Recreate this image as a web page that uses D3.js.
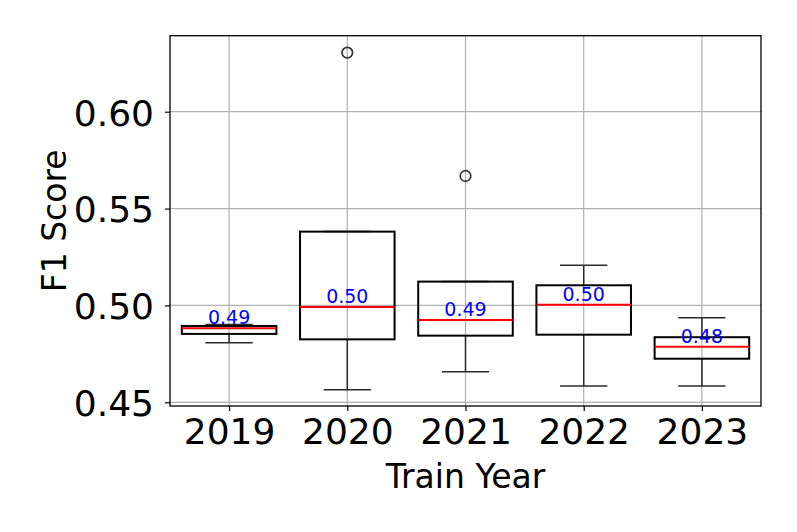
<!DOCTYPE html>
<html>
<head>
<meta charset="utf-8">
<script src="https://cdn.jsdelivr.net/npm/d3@7"></script>
<style>
  html, body { margin: 0; padding: 0; background: #fff; }
  text { font-family: "DejaVu Sans", sans-serif; }
</style>
</head>
<body>
<svg id="chart" width="797" height="532"></svg>
<script>
// ---- data ----
const years = ["2019", "2020", "2021", "2022", "2023"];
const whiskerLow  = [0.4808, 0.4565, 0.4658, 0.4584, 0.4584];
const q1          = [0.4853, 0.4825, 0.4844, 0.4849, 0.4725];
const medians     = [0.4882, 0.4992, 0.4925, 0.5004, 0.4787];
const q3          = [0.4894, 0.5381, 0.5123, 0.5104, 0.4836];
const whiskerHigh = [0.4901, 0.5381, 0.5123, 0.5207, 0.4937];
const outliers    = [[], [0.6305], [0.5668], [], []];
const yTicks = [0.45, 0.50, 0.55, 0.60];
const xLabel = "Train Year";
const yLabel = "F1 Score";

// ---- layout ----
const svg = d3.select("#chart");
const pL = 170, pR = 761, pT = 35.7, pB = 406;

const x = d3.scalePoint().domain(years).range([pL, pR]).padding(0.5);
const y = d3.scaleLinear().domain([0.44809, 0.63923]).range([pB, pT]);
const step = x.step();
const boxW = step * 0.8;
const capW = step * 0.4;

const rows = years.map((yr, i) => ({
  year: yr, lo: whiskerLow[i], q1: q1[i], med: medians[i], q3: q3[i], hi: whiskerHigh[i], out: outliers[i]
}));

// grid
const grid = svg.append("g");
grid.selectAll("line.gx").data(years).join("line")
  .attr("x1", d => x(d)).attr("x2", d => x(d))
  .attr("y1", pT).attr("y2", pB)
  .attr("stroke", "#b0b0b0").attr("stroke-width", 1.2);
grid.selectAll("line.gy").data(yTicks).join("line")
  .attr("x1", pL).attr("x2", pR)
  .attr("y1", d => y(d)).attr("y2", d => y(d))
  .attr("stroke", "#b0b0b0").attr("stroke-width", 1.2);

// axes
const yAxis = d3.axisLeft(y).tickValues(yTicks).tickFormat(d3.format(".2f")).tickSize(5).tickPadding(11);
const xAxis = d3.axisBottom(x).tickSize(5).tickPadding(7);

const gy = svg.append("g").attr("transform", `translate(${pL},0)`).call(yAxis);
gy.select(".domain").remove();
gy.selectAll(".tick line").attr("stroke", "#000").attr("stroke-width", 1.2);
gy.selectAll(".tick text").attr("font-size", 36).attr("fill", "#000")
  .attr("font-family", "DejaVu Sans").attr("dy", "0.37em");

const gx = svg.append("g").attr("transform", `translate(0,${pB})`).call(xAxis);
gx.select(".domain").remove();
gx.selectAll(".tick line").attr("stroke", "#000").attr("stroke-width", 1.2);
gx.selectAll(".tick text").attr("font-size", 36).attr("fill", "#000")
  .attr("font-family", "DejaVu Sans").attr("dy", "0.71em");

// boxes
const g = svg.append("g");
const b = g.selectAll("g.box").data(rows).join("g").attr("class", "box");
const wcol = "#2b2b2b";
b.append("line")
  .attr("x1", d => x(d.year)).attr("x2", d => x(d.year))
  .attr("y1", d => y(d.q1)).attr("y2", d => y(d.lo))
  .attr("stroke", wcol).attr("stroke-width", 1.5);
b.append("line")
  .attr("x1", d => x(d.year)).attr("x2", d => x(d.year))
  .attr("y1", d => y(d.q3)).attr("y2", d => y(d.hi))
  .attr("stroke", wcol).attr("stroke-width", 1.5);
b.append("line")
  .attr("x1", d => x(d.year) - capW / 2).attr("x2", d => x(d.year) + capW / 2)
  .attr("y1", d => y(d.lo)).attr("y2", d => y(d.lo))
  .attr("stroke", wcol).attr("stroke-width", 1.5);
b.append("line")
  .attr("x1", d => x(d.year) - capW / 2).attr("x2", d => x(d.year) + capW / 2)
  .attr("y1", d => y(d.hi)).attr("y2", d => y(d.hi))
  .attr("stroke", wcol).attr("stroke-width", 1.5);
b.append("rect")
  .attr("x", d => x(d.year) - boxW / 2).attr("width", boxW)
  .attr("y", d => y(d.q3)).attr("height", d => y(d.q1) - y(d.q3))
  .attr("fill", "none").attr("stroke", "#000").attr("stroke-width", 2);
b.append("line")
  .attr("x1", d => x(d.year) - boxW / 2).attr("x2", d => x(d.year) + boxW / 2)
  .attr("y1", d => y(d.med)).attr("y2", d => y(d.med))
  .attr("stroke", "#ff0000").attr("stroke-width", 2);
b.selectAll("circle").data(d => d.out.map(v => ({ year: d.year, v }))).join("circle")
  .attr("cx", d => x(d.year)).attr("cy", d => y(d.v)).attr("r", 5.3)
  .attr("fill", "none").attr("stroke", "#333").attr("stroke-width", 1.7);
b.append("text")
  .attr("x", d => x(d.year)).attr("y", d => y(d.med) - 4)
  .attr("text-anchor", "middle").attr("font-size", 19).attr("fill", "#0000ff")
  .text(d => d3.format(".2f")(d.med));

// frame
svg.append("rect").attr("x", pL).attr("y", pT)
  .attr("width", pR - pL).attr("height", pB - pT)
  .attr("fill", "none").attr("stroke", "#000").attr("stroke-width", 1.3);

// labels
svg.append("text").attr("x", (pL + pR) / 2).attr("y", 488)
  .attr("text-anchor", "middle").attr("font-size", 33).attr("fill", "#000").text(xLabel);
svg.append("text").attr("transform", `translate(66,${(pT + pB) / 2}) rotate(-90)`)
  .attr("text-anchor", "middle").attr("font-size", 33).attr("fill", "#000").text(yLabel);
</script>
</body>
</html>
